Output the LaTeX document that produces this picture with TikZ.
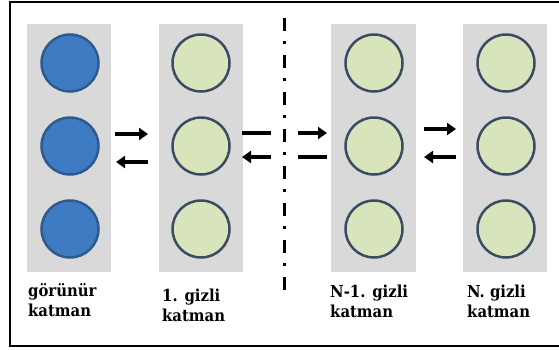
\documentclass[tikz,border=0pt]{standalone}
\usepackage{fontspec}
\setmainfont{DejaVu Serif Condensed}
\usetikzlibrary{arrows.meta}
\definecolor{colgray}{HTML}{D9D9D9}
\definecolor{bluefill}{HTML}{3F7BC3}
\definecolor{blueedge}{HTML}{2F5A8E}
\definecolor{greenfill}{HTML}{D8E4BC}
\definecolor{greenedge}{HTML}{3A4B63}
\tikzset{
  layerbox/.style={fill=colgray, draw=none},
  visunit/.style={circle, fill=bluefill, draw=blueedge, line width=2.5pt, minimum size=57pt, inner sep=0pt},
  hidunit/.style={circle, fill=greenfill, draw=greenedge, line width=2.5pt, minimum size=57pt, inner sep=0pt},
  fwd/.style={line width=4pt, -{Triangle[length=9pt,width=12pt]}},
  bare/.style={line width=4pt},
  lbl/.style={anchor=base west, inner sep=0pt, font=\bfseries\fontsize{16.5}{20}\selectfont},
  sep/.style={line width=3pt, dash pattern=on 13pt off 10pt on 3pt off 11pt}
}
\newcommand{\twoline}[2]{\vtop{\baselineskip=20pt\hbox{#1}\hbox{#2}}}
\begin{document}
\begin{tikzpicture}[x=1pt,y=-1pt]
\useasboundingbox (0,0) rectangle (559,349);
\begin{scope}
\clip (0,0) rectangle (559,349);
\draw[line width=2.5pt] (10,2) rectangle (565,346);
\end{scope}
% layer columns
\fill[layerbox] (27,24) rectangle (111,272);
\fill[layerbox] (159,24) rectangle (243,272);
\fill[layerbox] (331,24) rectangle (416,272);
\fill[layerbox] (463,24) rectangle (547,272);
% units
\foreach \i/\yy in {1/63,2/146,3/229}{
  \node[visunit] (v\i) at (70,\yy) {};
  \node[hidunit] (a\i) at (201,\yy) {};
  \node[hidunit] (b\i) at (374,\yy) {};
  \node[hidunit] (c\i) at (506,\yy) {};
}
% separator
\coordinate (st) at (284,18);
\coordinate (sb) at (284,290);
\draw[sep] (st) -- (sb);
% arrows
\coordinate (p1) at (115,134); \coordinate (p2) at (148,134);
\coordinate (q1) at (148,162); \coordinate (q2) at (116,162);
\draw[fwd] (p1) -- (p2);
\draw[fwd] (q1) -- (q2);
\coordinate (r1) at (242,133); \coordinate (r2) at (271,133);
\coordinate (s1) at (271,157); \coordinate (s2) at (242,157);
\draw[bare] (r1) -- (r2);
\draw[fwd] (s1) -- (s2);
\coordinate (t1) at (298,133); \coordinate (t2) at (327,133);
\coordinate (u1) at (298,157); \coordinate (u2) at (327,157);
\draw[fwd] (t1) -- (t2);
\draw[bare] (u1) -- (u2);
\coordinate (w1) at (424,129); \coordinate (w2) at (456,129);
\coordinate (z1) at (456,157); \coordinate (z2) at (424,157);
\draw[fwd] (w1) -- (w2);
\draw[fwd] (z1) -- (z2);
% labels
\node[lbl] (l1) at (28,296) {\twoline{görünür}{katman}};
\node[lbl] (l2) at (162,301) {\twoline{1. gizli}{katman}};
\node[lbl] (l3) at (330,297) {\twoline{N-1. gizli}{katman}};
\node[lbl] (l4) at (467,297) {\twoline{N. gizli}{katman}};
\end{tikzpicture}
\end{document}
